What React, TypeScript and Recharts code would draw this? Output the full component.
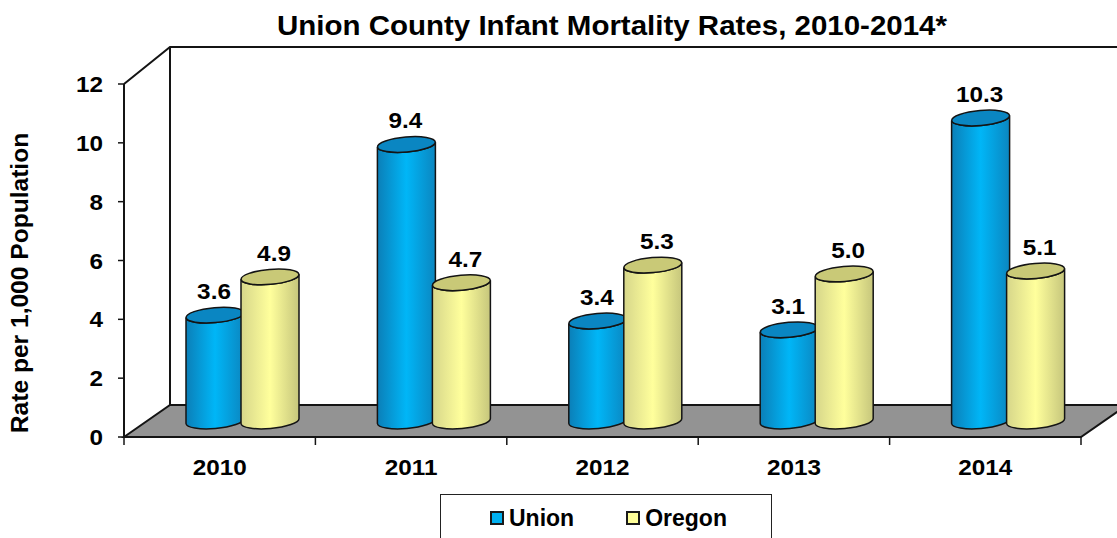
import React from 'react';
import { Bar, ComposedChart, Customized, Label, Legend, XAxis, YAxis } from 'recharts';

const years = ['2010', '2011', '2012', '2013', '2014'];
const unionRates = [3.6, 9.4, 3.4, 3.1, 10.3];
const oregonRates = [4.9, 4.7, 5.3, 5.0, 5.1];
const yTicks = [0, 2, 4, 6, 8, 10, 12];
const legendOrder = ['Union', 'Oregon'];

const chartData = years.map((year, i) => ({
  year,
  Union: unionRates[i],
  Oregon: oregonRates[i],
}));

const FONT = '"Liberation Sans", Arial, sans-serif';
const INK = '#141414';
const LEFT = 124;
const RIGHT = 1081;
const TOP = 84;
const BOTTOM = 437;
const DEPTH_X = 46;
const DEPTH_Y = 32;

// the cylinders sit in the middle of the 3D floor, not on the front axis
const SHIFT_X = 21;
const SHIFT_Y = 16;
const CYL_W = 58;
const RY = 7.5;
const TILT = 2.5;

// slightly stretched text, the original picture is scaled wider than tall
const WideText = ({ x, y, size = 22.5, anchor = 'middle', children }: any) => (
  <text
    transform={`translate(${x},${y}) scale(1.08,1)`}
    textAnchor={anchor}
    fontFamily={FONT}
    fontWeight="bold"
    fontSize={size}
    fill="#000"
  >
    {children}
  </text>
);

const Cylinder = ({ x, y, height, gradient, capFill }: any) => {
  const left = x + SHIFT_X;
  const right = left + CYL_W;
  const rx = CYL_W / 2;
  const top = y - SHIFT_Y;
  const bottom = y + height - SHIFT_Y;
  const body =
    `M${left},${top + TILT} L${left},${bottom + TILT} ` +
    `A${rx},${RY} -5 0 0 ${right},${bottom - TILT} L${right},${top - TILT} ` +
    `A${rx},${RY} -5 0 1 ${left},${top + TILT} Z`;
  return (
    <g>
      <path d={body} fill={`url(#${gradient})`} stroke={INK} strokeWidth={1.5} />
      <ellipse
        cx={left + rx}
        cy={top}
        rx={rx}
        ry={RY}
        transform={`rotate(-5 ${left + rx} ${top})`}
        fill={capFill}
        stroke={INK}
        strokeWidth={1.5}
      />
    </g>
  );
};

const UnionBar = (props: any) => <Cylinder {...props} gradient="unionFill" capFill="#0a86c2" />;
const OregonBar = (props: any) => <Cylinder {...props} gradient="oregonFill" capFill="#c9c977" />;

const valueLabel = (nudge: number) => (props: any) => {
  const { x, y, value } = props;
  return (
    <WideText x={x + SHIFT_X + CYL_W / 2 + nudge} y={y - SHIFT_Y - 16}>
      {Number(value).toFixed(1)}
    </WideText>
  );
};

const Frame = () => {
  const step = (RIGHT - LEFT) / years.length;
  return (
    <g>
      <defs>
        <linearGradient id="unionFill" x1="0" y1="0" x2="1" y2="0">
          <stop offset="0" stopColor="#0b7fb8" />
          <stop offset="0.5" stopColor="#00b6f7" />
          <stop offset="1" stopColor="#0b86c0" />
        </linearGradient>
        <linearGradient id="oregonFill" x1="0" y1="0" x2="1" y2="0">
          <stop offset="0" stopColor="#d6d68a" />
          <stop offset="0.5" stopColor="#ffff9c" />
          <stop offset="1" stopColor="#c6c67c" />
        </linearGradient>
      </defs>
      <polygon
        points={`${LEFT},${BOTTOM} ${LEFT + DEPTH_X},${BOTTOM - DEPTH_Y} ${RIGHT + DEPTH_X},${BOTTOM - DEPTH_Y} ${RIGHT},${BOTTOM}`}
        fill="#939393"
        stroke={INK}
        strokeWidth={2}
      />
      <path
        d={`M${LEFT},${TOP} L${LEFT + DEPTH_X},${TOP - 37} L1117,${TOP - 37} M${LEFT + DEPTH_X},${TOP - 37} L${LEFT + DEPTH_X},${BOTTOM - DEPTH_Y}`}
        fill="none"
        stroke={INK}
        strokeWidth={2}
      />
      {[0, 1, 2, 3, 4, 5].map((i) => (
        <line
          key={i}
          x1={LEFT + i * step}
          x2={LEFT + i * step}
          y1={BOTTOM}
          y2={BOTTOM + 8}
          stroke={INK}
          strokeWidth={1.5}
        />
      ))}
      <WideText x={612} y={35} size={27.3}>
        Union County Infant Mortality Rates, 2010-2014*
      </WideText>
    </g>
  );
};

const YTick = ({ x, y, payload }: any) => (
  <WideText x={x - 13} y={y + 8} anchor="end">
    {payload.value}
  </WideText>
);

const XTick = ({ x, y, payload }: any) => (
  <WideText x={x} y={y + 14}>
    {payload.value}
  </WideText>
);

const LegendBox = ({ payload }: any) => {
  const entries = legendOrder.map((name) => (payload || []).find((p: any) => p.value === name)).filter(Boolean);
  return (
    <div
      style={{
        boxSizing: 'border-box',
        width: 332,
        height: 60,
        border: '1px solid #222',
        background: '#fff',
        display: 'flex',
        justifyContent: 'flex-start',
        gap: 52,
        paddingTop: 9,
        paddingLeft: 49,
        fontFamily: FONT,
        fontWeight: 'bold',
        fontSize: 23,
        color: '#000',
      }}
    >
      {entries.map((entry: any) => (
        <span key={entry.value} style={{ display: 'flex', alignItems: 'center', height: 28 }}>
          <span
            style={{
              boxSizing: 'border-box',
              width: 14,
              height: 14,
              marginRight: 5,
              border: '2.5px solid #1a1a1a',
              background: entry.value === 'Union' ? '#00b0f0' : '#ffff99',
            }}
          />
          {entry.value}
        </span>
      ))}
    </div>
  );
};

export default function App() {
  return (
    <div style={{ position: 'absolute', left: 0, top: 0, width: 1117, height: 538, overflow: 'hidden', background: '#fff' }}>
      <ComposedChart
        width={1117}
        height={538}
        data={chartData}
        barSize={55}
        barGap={0}
        barCategoryGap={0}
        margin={{ top: TOP, right: 1117 - RIGHT, bottom: 61, left: 64 }}
      >
        <Customized component={Frame} />
        <XAxis
          dataKey="year"
          height={40}
          axisLine={{ stroke: INK, strokeWidth: 2 }}
          tickLine={false}
          tickMargin={18}
          tick={XTick}
          interval={0}
        />
        <YAxis
          width={60}
          domain={[0, 12]}
          ticks={yTicks}
          interval={0}
          axisLine={{ stroke: INK, strokeWidth: 2 }}
          tickLine={{ stroke: INK, strokeWidth: 1.5 }}
          tickSize={6}
          tick={YTick}
        >
          <Label
            content={() => (
              <text
                transform="translate(28,283) rotate(-90) scale(1.046,1)"
                textAnchor="middle"
                fontFamily={FONT}
                fontWeight="bold"
                fontSize={23.5}
                fill="#000"
              >
                Rate per 1,000 Population
              </text>
            )}
          />
        </YAxis>
        <Legend
          layout="horizontal"
          verticalAlign="middle"
          align="center"
          content={LegendBox}
          wrapperStyle={{ position: 'absolute', left: 440, top: 494, width: 332, height: 60, margin: 0 }}
        />
        <Bar dataKey="Union" fill="#00b0f0" isAnimationActive={false} shape={UnionBar} label={valueLabel(-1)} />
        <Bar dataKey="Oregon" fill="#ffff99" isAnimationActive={false} shape={OregonBar} label={valueLabel(4)} />
      </ComposedChart>
    </div>
  );
}
